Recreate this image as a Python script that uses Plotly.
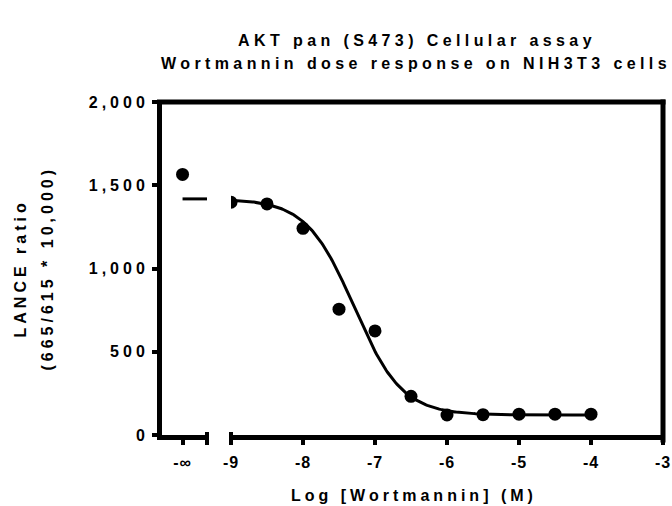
import numpy as np
import plotly.graph_objects as go

# ---------------- data ----------------
title_lines = ["AKT pan (S473) Cellular assay", "Wortmannin dose response on NIH3T3 cells"]
x_title = "Log [Wortmannin] (M)"
y_title_lines = ["LANCE ratio", "(665/615 * 10,000)"]

control_label = "-∞"
control_x = 0.0
control_y = [1565]

log_dose = [-9.0, -8.5, -8.0, -7.5, -7.0, -6.5, -6.0, -5.5, -5.0, -4.5, -4.0]
lance = [1398, 1388, 1241, 756, 625, 232, 120, 122, 125, 125, 125]

# fitted 4-parameter logistic curve (read from the drawn fit)
fit_top = 1418
fit_bottom = 120
fit_logic50 = -7.29
fit_hill = 1.31

x_ticks = [-9, -8, -7, -6, -5, -4, -3]
x_tick_labels = ["-9", "-8", "-7", "-6", "-5", "-4", "-3"]
y_ticks = [0, 500, 1000, 1500, 2000]

# ---------------- layout constants ----------------
W, H = 672, 506
ML, MR, MT, MB = 162, 9, 102, 71
PW = W - ML - MR
PH = H - MT - MB
left_range = [-0.84, 1.0]
right_range = [-9, -3]
left_dom_end = (207 - ML) / PW
right_dom_start = (231 - ML) / PW

FONT = "Arial, Liberation Sans, sans-serif"
FS = 16
LW = 5

curve_x = np.linspace(log_dose[0], log_dose[-1], 300)
curve_y = fit_bottom + (fit_top - fit_bottom) / (1 + 10 ** ((curve_x - fit_logic50) * fit_hill))

fig = go.Figure()
fig.add_trace(go.Scatter(x=[control_x], y=control_y, mode="markers", xaxis="x", yaxis="y",
                         marker=dict(size=13, color="black"), showlegend=False))
fig.add_trace(go.Scatter(x=[control_x, left_range[1]], y=[fit_top, fit_top], mode="lines",
                         xaxis="x", yaxis="y", line=dict(color="black", width=3), showlegend=False))
fig.add_trace(go.Scatter(x=curve_x, y=curve_y, mode="lines", xaxis="x2", yaxis="y",
                         line=dict(color="black", width=3), showlegend=False))
fig.add_trace(go.Scatter(x=log_dose, y=lance, mode="markers", xaxis="x2", yaxis="y",
                         marker=dict(size=13, color="black"), showlegend=False))

font = dict(family=FONT, size=FS, color="black", weight="bold")
axis_common = dict(showline=True, linewidth=LW, linecolor="black", ticks="outside",
                   ticklen=5, tickwidth=4, tickcolor="black", showgrid=False, zeroline=False,
                   tickfont=font, ticklabeloverflow="allow", automargin=False)

fig.update_layout(
    width=W, height=H,
    margin=dict(l=ML, r=MR, t=MT, b=MB, autoexpand=False),
    paper_bgcolor="white", plot_bgcolor="white",
    title=dict(text=title_lines[0], x=(417 - ML) / PW, xref="paper", xanchor="center",
               y=1 - 40 / H, yref="container", yanchor="middle", font=font, automargin=False),
    xaxis=dict(domain=[0, left_dom_end], range=left_range, tickvals=[control_x],
               ticktext=[control_label], anchor="y", ticklabelstandoff=4, **axis_common),
    xaxis2=dict(domain=[right_dom_start, 1], range=right_range, tickvals=x_ticks,
                ticktext=x_tick_labels, anchor="y", ticklabelstandoff=4, **axis_common),
    yaxis=dict(range=[y_ticks[0], y_ticks[-1]], tickvals=y_ticks, tickformat=",",
               anchor="x", **axis_common),
)

# second title line
fig.add_annotation(text=title_lines[1], xref="paper", yref="paper", x=(416 - ML) / PW,
                   y=1 + (MT - 63) / PH, xanchor="center", yanchor="middle", showarrow=False,
                   font=font)

# frame (top and right) and axis-break caps, in paper coordinates (not clipped)
ext = LW / 2
fig.add_shape(type="line", xref="paper", yref="paper", x0=-(2 * ext) / PW, x1=1 + ext / PW,
              y0=1, y1=1, line=dict(color="black", width=LW))
fig.add_shape(type="line", xref="paper", yref="paper", x0=1, x1=1,
              y0=-(3 * ext) / PH, y1=1 + ext / PH, line=dict(color="black", width=LW))
for xv in (left_dom_end, right_dom_start):
    fig.add_shape(type="line", xref="paper", yref="paper", x0=xv, x1=xv,
                  y0=3 / PH, y1=-10 / PH, line=dict(color="black", width=4))

fig.add_annotation(text=x_title, xref="paper", yref="paper", x=(414 - ML) / PW,
                   y=-(495 - (MT + PH)) / PH, xanchor="center", yanchor="middle", showarrow=False,
                   font=font)
for line_text, xc in zip(y_title_lines, (20, 47)):
    fig.add_annotation(text=line_text, xref="paper", yref="paper",
                       x=(xc - ML) / PW, y=0.5, xanchor="center", yanchor="middle", textangle=-90,
                       showarrow=False, font=font)

post = """
document.body.style.margin = '0';
document.body.style.padding = '0';
document.body.style.overflow = 'hidden';
var gd = document.getElementById('{plot_id}');
gd.querySelectorAll('.gtitle').forEach(function(t){ t.style.letterSpacing = '4.4px'; });
gd.querySelectorAll('.annotation-text').forEach(function(t){ t.style.letterSpacing = '4px'; });
var a = gd.querySelectorAll('.annotation-text');
if (a.length) { a[0].style.letterSpacing = '4.4px'; }
gd.querySelectorAll('.ytick text').forEach(function(t){ t.style.letterSpacing = '4px'; });
gd.querySelectorAll('.xtick text, .x2tick text').forEach(function(t){ t.style.letterSpacing = '1px'; });
"""
fig.write_html("out.html", post_script=post, config={"displayModeBar": False})
